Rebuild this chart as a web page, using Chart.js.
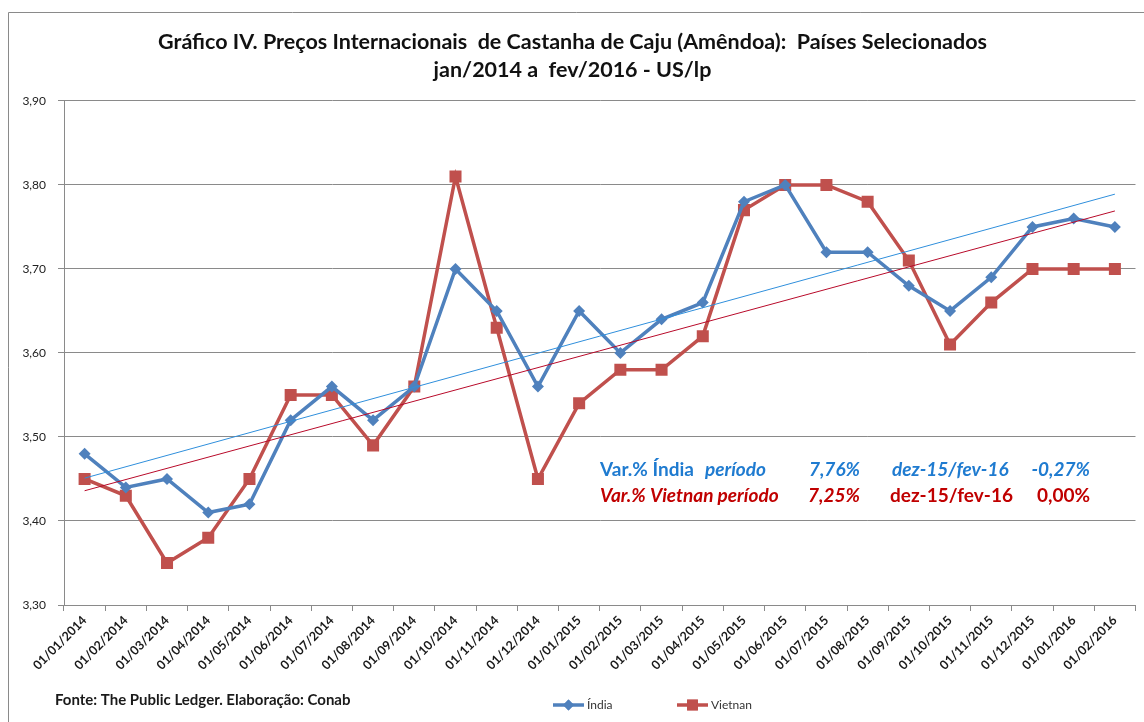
<html>
<head>
  <meta charset="utf-8">
  <script src="https://cdn.jsdelivr.net/npm/chart.js@4.4.0/dist/chart.umd.min.js"></script>
  <style>body{margin:0;background:#fff}</style>
</head>
<body>
<canvas id="gc" width="1144" height="722"></canvas>
<script>
  // meses (eixo x)
  var meses = ['01/01/2014','01/02/2014','01/03/2014','01/04/2014','01/05/2014','01/06/2014',
    '01/07/2014','01/08/2014','01/09/2014','01/10/2014','01/11/2014','01/12/2014',
    '01/01/2015','01/02/2015','01/03/2015','01/04/2015','01/05/2015','01/06/2015',
    '01/07/2015','01/08/2015','01/09/2015','01/10/2015','01/11/2015','01/12/2015',
    '01/01/2016','01/02/2016'];
  var india = [3.48,3.44,3.45,3.41,3.42,3.52,3.56,3.52,3.56,3.70,3.65,3.56,3.65,
    3.60,3.64,3.66,3.78,3.80,3.72,3.72,3.68,3.65,3.69,3.75,3.76,3.75];
  var vietnan = [3.45,3.43,3.35,3.38,3.45,3.55,3.55,3.49,3.56,3.81,3.63,3.45,3.54,
    3.58,3.58,3.62,3.77,3.80,3.80,3.78,3.71,3.61,3.66,3.70,3.70,3.70];
  // linhas de tendencia (inicio, fim)
  var tendIndia = [3.451, 3.789];
  var tendVietnan = [3.436, 3.769];
  var yTicks = {min: 3.30, max: 3.90, step: 0.10};
  var titulo = ['Gráfico IV. Preços Internacionais  de Castanha de Caju (Amêndoa):  Países Selecionados',
    'jan/2014 a  fev/2016 - US/lp'];
  var fonte = 'Fonte: The Public Ledger. Elaboração: Conab';
  var notaIndia = [['Var.% Índia ', ''], ['período', 'italic '], ['7,76%', 'italic '],
    ['dez-15/fev-16', 'italic '], ['-0,27%', 'italic ']];
  var notaVietnan = [['Var.% Vietnan período', 'italic '], ['7,25%', 'italic '],
    ['dez-15/fev-16', ''], ['0,00%', '']];

  var FF = 'Lato, "Open Sans", sans-serif';
  eb = s => document.getElementById(s);

  function tend(v){
    return [{x: meses[0], y: v[0]}, {x: meses[meses.length-1], y: v[1]}];
  }

  var extras = {
    id: 'extras',
    beforeDraw(c){
      var g = c.ctx;
      g.save();
      g.strokeStyle = '#8a8a8a'; g.lineWidth = 1;
      g.beginPath(); g.moveTo(8.5, 722); g.lineTo(8.5, 12.5); g.lineTo(1144, 12.5); g.stroke();
      g.restore();
    },
    afterDraw(c){
      var g = c.ctx;
      g.save();
      g.textBaseline = 'middle';
      // fonte
      g.fillStyle = '#1a1a1a';
      g.font = 'bold 15px ' + FF;
      g.fillText(fonte, 55, 700);
      // notas: [x, alinhamento]
      var pos1 = [[600,'left'], [705,'left'], [860,'right'], [892,'left'], [1090,'right']];
      notaIndia.forEach((s, i) => {
        g.font = s[1] + 'bold 19px ' + FF; g.fillStyle = '#1f7bd0';
        g.textAlign = pos1[i][1];
        g.fillText(s[0], pos1[i][0], 470);
      });
      var pos2 = [[600,'left'], [860,'right'], [890,'left'], [1090,'right']];
      notaVietnan.forEach((s, i) => {
        g.font = s[1] + 'bold 19px ' + FF; g.fillStyle = '#c00000';
        g.textAlign = pos2[i][1];
        g.fillText(s[0], pos2[i][0], 496);
      });
      g.textAlign = 'left';
      // legenda
      var lx = [553, 677];
      c.data.datasets.filter(d => !d.trend).forEach((d, i) => {
        var x = lx[i], y = 705;
        g.strokeStyle = d.borderColor; g.lineWidth = 3.5;
        g.beginPath(); g.moveTo(x, y); g.lineTo(x + 31, y); g.stroke();
        g.fillStyle = d.borderColor;
        Chart.helpers.drawPoint(g, {pointStyle: d.pointStyle, radius: d.pointRadius * 0.9,
          borderWidth: 0, rotation: 0}, x + 15.5, y);
        g.fill();
        g.fillStyle = '#333';
        g.font = '12px ' + FF;
        g.fillText(d.label, x + 34, y);
      });
      g.restore();
    }
  };

  function gci(){
    new Chart(eb('gc'), {
      type: 'line',
      data: {
        labels: meses,
        datasets: [
          {label: 'Índia', data: india, borderColor: '#4f81bd', backgroundColor: '#4f81bd',
            borderWidth: 3.5, pointStyle: 'rectRot', pointRadius: 6, pointBorderWidth: 0, order: 2},
          {label: 'Vietnan', data: vietnan, borderColor: '#c0504d', backgroundColor: '#c0504d',
            borderWidth: 3.5, pointStyle: 'rect', pointRadius: 8.5, pointBorderWidth: 0, order: 3},
          {label: 'tend. Índia', trend: true, data: tend(tendIndia), borderColor: '#2f8fdc',
            borderWidth: 1, pointRadius: 0, order: 0},
          {label: 'tend. Vietnan', trend: true, data: tend(tendVietnan), borderColor: '#b80a2a',
            borderWidth: 1, pointRadius: 0, order: 1}
        ]
      },
      options: {
        responsive: false,
        animation: false,
        layout: {padding: {left: 8, right: 7, top: 0, bottom: 0}},
        plugins: {
          legend: {display: false},
          tooltip: {enabled: false},
          title: {
            display: true,
            text: titulo,
            color: '#111',
            font: {family: FF, size: 21.5, weight: 'bold', lineHeight: 1.3},
            padding: {top: 28, bottom: 17}
          }
        },
        scales: {
          x: {
            offset: true,
            afterFit: s => { s.height = 117; },
            grid: {offset: true, drawOnChartArea: false, drawTicks: true, tickLength: 6, color: '#8a8a8a'},
            border: {color: '#8a8a8a'},
            ticks: {autoSkip: false, maxRotation: 45, minRotation: 45, padding: 2, color: '#1a1a1a',
              font: {family: FF, size: 12.5, weight: 'bold'}}
          },
          y: {
            min: yTicks.min, max: yTicks.max,
            afterFit: s => { s.width = 56; },
            grid: {color: '#8a8a8a', tickLength: 6},
            border: {color: '#8a8a8a'},
            ticks: {stepSize: yTicks.step, padding: 12, color: '#222',
              font: {family: FF, size: 12},
              callback: v => v.toFixed(2).replace('.', ',')}
          }
        }
      },
      plugins: [extras]
    });
  }
  window.addEventListener('load', gci);
</script>
</body>
</html>
